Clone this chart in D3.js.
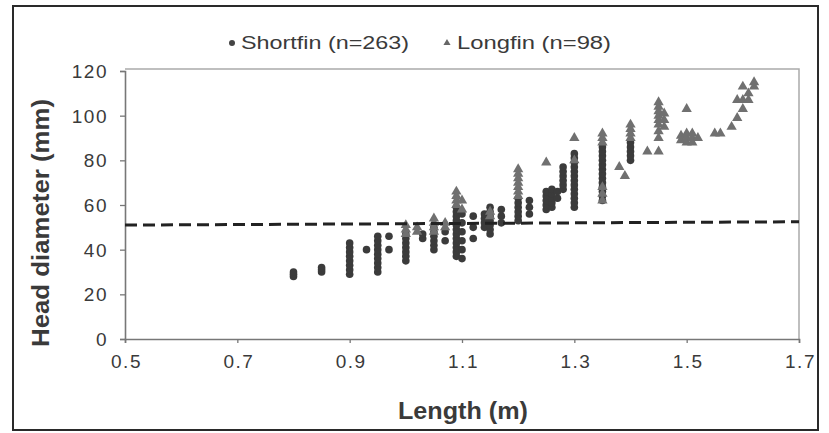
<!DOCTYPE html>
<html><head><meta charset="utf-8">
<script src="https://cdn.jsdelivr.net/npm/d3@7/dist/d3.min.js"></script>
<style>html,body{margin:0;padding:0;background:#fff;}svg{display:block;}</style>
</head><body><svg id="c" width="829" height="433"></svg>
<script>
// ---- data ----
const xTicks = [0.5, 0.7, 0.9, 1.1, 1.3, 1.5, 1.7];
const yTicks = [0, 20, 40, 60, 80, 100, 120];
const legendLabels = ["Shortfin (n=263)", "Longfin (n=98)"];
const thresholdLine = [[0.5, 51], [1.7, 52.5]];

// Shortfin: length (m) and diameters (mm) measured at that length
const shortfinLengths = [0.80, 0.85, 0.90, 0.93, 0.95, 0.97, 1.00, 1.03, 1.05, 1.07, 1.09, 1.10, 1.12, 1.14, 1.15, 1.17, 1.20, 1.22, 1.25, 1.26, 1.27, 1.28, 1.30, 1.35, 1.40];
const shortfinDiameters = [
  [28, 29, 30],
  [30, 31, 32],
  [29, 31, 33, 35, 37, 39, 41, 43],
  [40],
  [30, 32, 34, 36, 38, 40, 42, 44, 46],
  [46, 40],
  [35, 37, 39, 41, 43, 45, 47],
  [45, 47],
  [40, 42, 44, 46, 48, 50],
  [44, 48],
  [37, 39, 41, 43, 45, 47, 49, 51, 53, 55, 57, 59],
  [36, 40, 44, 48, 52, 56],
  [45, 50, 55],
  [50, 52, 54, 56],
  [47, 49, 51, 53, 55, 57, 59],
  [52, 55, 58],
  [53, 55, 57, 59, 61, 63],
  [56, 59, 62],
  [58, 60, 62, 64, 66],
  [59, 61, 63, 65, 67],
  [63, 66],
  [67, 69, 71, 73, 75, 77],
  [59, 61, 63, 65, 67, 69, 71, 73, 75, 77, 79, 81, 83],
  [62, 64, 66, 68, 70, 72, 74, 76, 78, 80, 82, 84, 86],
  [80, 82, 84, 86, 88]
];

// Longfin
const longfinLengths = [1.00, 1.02, 1.05, 1.07, 1.09, 1.10, 1.15, 1.20, 1.25, 1.30, 1.35, 1.38, 1.39, 1.40, 1.43, 1.45, 1.46, 1.49, 1.50, 1.51, 1.52, 1.55, 1.56, 1.58, 1.59, 1.60, 1.61, 1.62];
const longfinDiameters = [
  [47, 49, 51],
  [48, 50],
  [48, 50, 52, 54],
  [50, 52],
  [60, 62, 64, 66],
  [58, 62],
  [55, 57],
  [64, 66, 68, 70, 72, 74, 76],
  [79],
  [80, 90],
  [62, 65, 68, 88, 90, 92],
  [77],
  [73],
  [90, 92, 94, 96],
  [84],
  [84, 90, 93, 96, 98, 100, 102, 104, 106],
  [95, 98, 101],
  [89, 91],
  [88, 90, 92, 103],
  [88, 90, 92],
  [90],
  [92],
  [92],
  [95],
  [99, 107],
  [103, 107, 113],
  [107, 110],
  [113, 115]
];

const xTitle = "Length (m)";
const yTitle = "Head diameter (mm)";

// ---- drawing ----
const svg = d3.select("#c");
const x = d3.scaleLinear().domain([0.5, 1.7]).range([125, 799]);
const y = d3.scaleLinear().domain([0, 120]).range([339, 71]);

const flat = (Ls, Ds) => Ls.flatMap((L, i) => Ds[i].map(D => ({L, D})));
const sf = flat(shortfinLengths, shortfinDiameters);
const lf = flat(longfinLengths, longfinDiameters);

// outer border
svg.append("rect").attr("x", 13).attr("y", 6).attr("width", 805).attr("height", 424)
  .attr("fill", "none").attr("stroke", "#2a2a2a").attr("stroke-width", 2);

// plot frame (top/right)
svg.append("path").attr("d", `M${x(0.5)},${y(120)-2}H${x(1.7)}V${y(0)}`)
  .attr("fill", "none").attr("stroke", "#aaa").attr("stroke-width", 1.5);

const font = "'Liberation Sans', Arial, sans-serif";

// axes
const gx = svg.append("g").attr("transform", `translate(0,${y(0)})`)
  .call(d3.axisBottom(x).tickValues(xTicks).tickSize(4).tickFormat(d3.format(".1f")));
const gy = svg.append("g").attr("transform", `translate(${x(0.5)},0)`)
  .call(d3.axisLeft(y).tickValues(yTicks).tickSize(5).tickFormat(d3.format("d")));
[gx, gy].forEach(g => {
  g.select(".domain").attr("stroke", "#777").attr("stroke-width", 1.6);
  g.selectAll(".tick line").attr("stroke", "#777").attr("stroke-width", 1.3);
  g.selectAll(".tick text").attr("fill", "#3a3a3a").attr("font-family", font)
    .attr("font-size", 19).attr("letter-spacing", "1.5px");
});
gx.selectAll(".tick text").attr("dy", "1.1em").attr("y", 8).attr("dx", 1);
gy.selectAll(".tick text").attr("x", -17).attr("dy", "0.35em");

// points
svg.append("g").selectAll("circle").data(sf).join("circle")
  .attr("cx", d => x(d.L)).attr("cy", d => y(d.D)).attr("r", 3.8)
  .attr("fill", "#3b3b3b");
const tri = d3.symbol().type(d3.symbolTriangle).size(46);
svg.append("g").selectAll("path").data(lf).join("path")
  .attr("d", tri).attr("transform", d => `translate(${x(d.L)},${y(d.D)})`)
  .attr("fill", "#707070");

// threshold dashed line
svg.append("line")
  .attr("x1", x(thresholdLine[0][0])).attr("y1", y(thresholdLine[0][1]))
  .attr("x2", x(thresholdLine[1][0])).attr("y2", y(thresholdLine[1][1]))
  .attr("stroke", "#222").attr("stroke-width", 3).attr("stroke-dasharray", "12,6");

// legend
svg.append("circle").attr("cx", 232).attr("cy", 43).attr("r", 3).attr("fill", "#444");
svg.append("path").attr("d", d3.symbol().type(d3.symbolTriangle).size(22))
  .attr("transform", "translate(447,43)").attr("fill", "#666");
svg.append("text").attr("x", 241).attr("y", 49).text(legendLabels[0])
  .attr("font-family", font).attr("font-size", 18).attr("fill", "#3a3a3a")
  .attr("textLength", 168).attr("lengthAdjust", "spacingAndGlyphs");
svg.append("text").attr("x", 457).attr("y", 49).text(legendLabels[1])
  .attr("font-family", font).attr("font-size", 18).attr("fill", "#3a3a3a")
  .attr("textLength", 154).attr("lengthAdjust", "spacingAndGlyphs");

// titles
svg.append("text").attr("x", 463).attr("y", 419).attr("text-anchor", "middle")
  .attr("font-family", font).attr("font-weight", "bold").attr("font-size", 23)
  .attr("fill", "#3a3a3a").attr("textLength", 130).attr("lengthAdjust", "spacingAndGlyphs").text(xTitle);
svg.append("text").attr("transform", "translate(49,223) rotate(-90)").attr("text-anchor", "middle")
  .attr("font-family", font).attr("font-weight", "bold").attr("font-size", 23)
  .attr("fill", "#3a3a3a").attr("textLength", 248).attr("lengthAdjust", "spacingAndGlyphs").text(yTitle);
</script></body></html>
